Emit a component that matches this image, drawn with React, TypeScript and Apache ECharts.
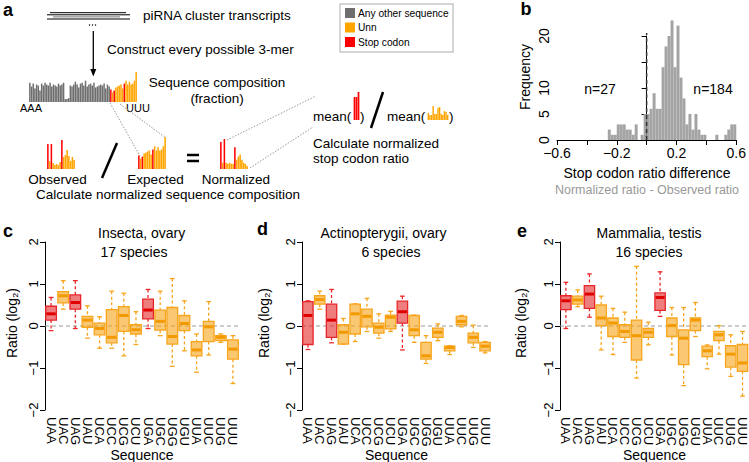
import React, { useEffect, useRef } from "react";
import * as echarts from "echarts";

const FONT = "'Liberation Sans', Arial, Helvetica, sans-serif";
const GRAY = "#6e6e6e";
const ORANGE = "#FFA500";
const RED = "#FF0000";

// ---------- data ----------
const codons = ["UAA","UAC","UAG","UAU","UCA","UCC","UCG","UCU","UGA","UGC","UGG","UGU","UUA","UUC","UUG","UUU"];
const stopCodons = ["UAA","UAG","UGA"];

// panel a schematic (relative heights)
const compOther = [20,16,19,14,18,17,12,19,17,20,18,17,20,16,18,17,16,19,17,18,20,3,3,4,17,16,18,21,18,15,19,20,17,22,16,18,19,17,20,15,16,17,18,17,19,14,18,16];
const expectedU = [13,10,12,15,16,17,18,14,19,22,18,21,18,19,22,31];
const observedU = [25,8,25,6,4,5,4,7,29,12,14,19,13,8,12,9];
const normalizedU = [26,6,29,6,5,6,5,5,21,9,12,14,9,6,5,3];
const meanStop = [23,23,28];
const meanUnn = [7,5,5,14,6,6,12,13,6,5,9,8,5];

// panel b histogram
const histStart = -0.26;
const histBin = 0.02;
const histCounts = [2,1,1,3,3,3,2,2,1,3,0,1,5, 5,6,9,6,6,14,18,20,23,14,22,12,8,3,5,2,5,2,1,1,0,0,0,1,0,0,1,2,3,3];
const histXTicks = ["−0.6","−0.2","0.2","0.6"];

// panels c-e: [lower whisker, Q1, median, Q3, upper whisker]
const insecta = [
  [-0.11,0.14,0.29,0.47,0.68],[0.40,0.55,0.72,0.82,1.08],[-0.06,0.40,0.56,0.74,1.08],[-0.29,-0.03,0.14,0.23,0.48],
  [-0.53,-0.21,-0.06,0.07,0.22],[-0.53,-0.40,-0.27,0.39,0.83],[-0.71,-0.13,0.25,0.46,0.78],[-0.44,-0.19,-0.09,0.03,0.34],
  [-0.06,0.17,0.38,0.64,0.87],[-0.23,-0.10,0.11,0.38,0.83],[-0.96,-0.43,-0.25,0.44,1.13],[-0.59,-0.11,0.06,0.25,0.60],
  [-1.10,-0.71,-0.57,-0.37,-0.19],[-0.69,-0.37,-0.02,0.11,0.58],[-0.39,-0.35,-0.27,-0.23,-0.19],[-1.37,-0.79,-0.55,-0.33,-0.23]
];
const actinopterygii = [
  [-0.56,-0.44,0.25,0.58,0.60],[0.40,0.52,0.63,0.72,0.83],[-0.40,-0.27,0.14,0.52,0.87],[-0.43,-0.43,-0.15,0.03,0.18],
  [-0.37,-0.19,0.29,0.52,0.53],[-0.13,-0.02,0.23,0.40,0.66],[-0.29,-0.17,-0.03,0.07,0.29],[-0.13,-0.07,0.21,0.26,0.35],
  [-0.57,0.07,0.34,0.59,0.71],[-0.39,-0.23,-0.09,0.25,0.26],[-0.89,-0.79,-0.71,-0.39,-0.23],[-0.35,-0.27,-0.15,-0.05,0.05],
  [-0.68,-0.59,-0.51,-0.48,-0.47],[-0.02,0.03,0.11,0.23,0.25],[-0.51,-0.40,-0.27,-0.17,0.02],[-0.64,-0.59,-0.48,-0.39,-0.37]
];
const mammalia = [
  [-0.06,0.39,0.60,0.72,1.04],[0.46,0.52,0.62,0.71,0.86],[0.21,0.42,0.76,0.96,1.24],[-0.57,0.01,0.19,0.50,0.71],
  [-0.68,-0.25,0.07,0.19,0.42],[-0.39,-0.27,-0.13,0.03,0.33],[-1.24,-0.81,-0.23,0.14,1.42],[-0.45,-0.27,-0.15,-0.06,0.09],
  [0.23,0.37,0.68,0.79,1.29],[-0.69,-0.25,0.01,0.19,0.44],[-1.42,-0.92,-0.29,-0.09,0.44],[-0.25,-0.11,0.14,0.19,0.56],
  [-1.02,-0.73,-0.59,-0.48,-0.45],[-0.67,-0.35,-0.21,-0.13,0.01],[-1.20,-0.98,-0.67,-0.47,-0.21],[-1.67,-1.08,-0.88,-0.44,-0.13]
];

// ---------- helpers ----------
const bases = ["A","C","G","U"];
const allTrimers = bases.flatMap(a => bases.flatMap(b => bases.map(c => a + b + c)));
const colorOf = (t: string) => (t[0] !== "U" ? GRAY : stopCodons.includes(t) ? RED : ORANGE);
const unnCodons = codons.filter(c => !stopCodons.includes(c));

const txt = (text: string, x: number, y: number, o: any = {}) => ({
  type: "text", x, y, rotation: o.rot || 0, silent: true,
  style: {
    text, fill: o.color || "#000", fontSize: o.size || 13.5, fontFamily: FONT,
    fontWeight: o.weight || "normal",
    textAlign: o.align || "left", align: o.align || "left",
    textVerticalAlign: "middle", verticalAlign: "middle",
  },
});
const ln = (x1: number, y1: number, x2: number, y2: number, o: any = {}) => ({
  type: "line", silent: true, shape: { x1, y1, x2, y2 },
  style: { stroke: o.color || "#000", lineWidth: o.w || 1, lineDash: o.dash || null },
});

function App() {
  const ref = useRef<HTMLDivElement>(null);
  useEffect(() => {
    document.body.style.margin = "0";
    const chart = echarts.init(ref.current!, null, { renderer: "svg" });

    const miniGrids = [
      { left: 29, top: 72, width: 108, height: 30 },
      { left: 47, top: 140, width: 28, height: 29 },
      { left: 138, top: 137, width: 28, height: 32 },
      { left: 220, top: 139, width: 28, height: 30 },
      { left: 353.5, top: 92, width: 6, height: 28 },
      { left: 427.5, top: 104, width: 21, height: 16 },
    ];
    const miniCats = [allTrimers, codons, codons, codons, stopCodons, unnCodons];
    const miniVals = [[...compOther, ...expectedU], observedU, expectedU, normalizedU, meanStop, meanUnn];
    const miniMax = [31, 29, 31, 29, 28, 16];

    const grids: any[] = [...miniGrids,
      { left: 557, top: 36, width: 181, height: 104 },
      { left: 45, top: 242, width: 194, height: 168 },
      { left: 302, top: 242, width: 189, height: 168 },
      { left: 560, top: 242, width: 189, height: 168 },
    ];

    const xAxes: any[] = miniCats.map((cats, k) => ({ type: "category", gridIndex: k, data: cats, show: false }));
    const yAxes: any[] = miniMax.map((m, k) => ({ type: "value", gridIndex: k, min: 0, max: m, show: false }));

    // histogram axes
    xAxes.push({
      type: "value", gridIndex: 6, min: -0.6, max: 0.6, interval: 0.2,
      axisLine: { show: true, onZero: false, lineStyle: { color: "#000", width: 1 } },
      axisTick: { show: true, length: 5, lineStyle: { color: "#000" } },
      splitLine: { show: false },
      axisLabel: {
        fontSize: 14, color: "#000", fontFamily: FONT, margin: 6,
        formatter: (v: number) => {
          const k = Math.round(v * 10);
          return Math.abs(k) % 4 === 2 ? histXTicks[(k + 6) / 4] : "";
        },
      },
    });
    yAxes.push({
      type: "value", gridIndex: 6, min: 0, max: 20, interval: 5,
      axisLine: { show: true, lineStyle: { color: "#000", width: 1 } },
      axisTick: { show: true, length: 5, lineStyle: { color: "#000" } },
      splitLine: { show: false },
      axisLabel: { rotate: 90, fontSize: 14, color: "#000", fontFamily: FONT, margin: 6,
        formatter: (v: number) => (v === 15 ? "" : String(v)) },
    });
    // box panels axes
    for (let g = 7; g <= 9; g++) {
      xAxes.push({
        type: "category", gridIndex: g, data: codons,
        axisLine: { show: false }, axisTick: { show: false }, splitLine: { show: false },
        axisLabel: { interval: 0, rotate: -90, fontSize: 13, color: "#000", fontFamily: FONT, margin: 7 },
      });
      yAxes.push({
        type: "value", gridIndex: g, min: -2, max: 2, interval: 1,
        axisLine: { show: true, lineStyle: { color: "#000", width: 1 } },
        axisTick: { show: true, length: 5, lineStyle: { color: "#000" } },
        splitLine: { show: false },
        axisLabel: { rotate: 90, fontSize: 13, color: "#000", fontFamily: FONT, margin: 5,
          formatter: (v: number) => String(v).replace("-", "−") },
      });
    }

    const series: any[] = miniCats.map((cats, k) => ({
      type: "bar", xAxisIndex: k, yAxisIndex: k, barCategoryGap: "12%", silent: true,
      data: miniVals[k].map((v, i) => ({ value: v, itemStyle: { color: colorOf(k === 4 || k === 5 ? "U" + cats[i].slice(1) : cats[i]) } })),
    }));
    // fix colours of mean charts explicitly
    series[4].data.forEach((d: any) => (d.itemStyle.color = RED));
    series[5].data.forEach((d: any) => (d.itemStyle.color = ORANGE));

    // histogram
    series.push({
      type: "custom", xAxisIndex: 6, yAxisIndex: 6, clip: false, silent: true,
      data: histCounts.map((c, i) => [histStart + i * histBin, c]),
      renderItem: (p: any, api: any) => {
        const x0 = api.value(0), c = api.value(1);
        if (!c) return null;
        const a = api.coord([x0, 0]);
        const b = api.coord([x0 + histBin, c]);
        return { type: "rect", shape: { x: a[0], y: b[1], width: b[0] - a[0], height: a[1] - b[1] }, style: { fill: "#a4a4a4" } };
      },
    });
    series.push({
      type: "custom", xAxisIndex: 6, yAxisIndex: 6, clip: false, silent: true, data: [[0, 20.6]],
      renderItem: (p: any, api: any) => {
        const a = api.coord([0, 0]);
        const b = api.coord([0, api.value(1)]);
        return { type: "line", shape: { x1: a[0], y1: a[1], x2: b[0], y2: b[1] }, style: { stroke: "#333", lineWidth: 1.5, lineDash: [4, 3] } };
      },
    });

    const boxRender = (p: any, api: any) => {
      const i = api.value(0);
      const lo = api.value(1), q1 = api.value(2), md = api.value(3), q3 = api.value(4), hi = api.value(5);
      const cx = api.coord([i, md])[0];
      const band = api.size([1, 0])[0];
      const bw = band * 0.88, cw = bw * 0.45;
      const y = (v: number) => api.coord([i, v])[1];
      const stop = stopCodons.includes(codons[i]);
      const col = stop ? "#E8262A" : "#F7A51C";
      const fill = stop ? "rgba(226,40,40,0.6)" : "rgba(247,162,20,0.6)";
      const med = stop ? "#E00000" : "#F29A00";
      return {
        type: "group",
        children: [
          { type: "line", shape: { x1: cx, y1: y(hi), x2: cx, y2: y(q3) }, style: { stroke: col, lineWidth: 1.3, lineDash: [3, 2.5] } },
          { type: "line", shape: { x1: cx, y1: y(q1), x2: cx, y2: y(lo) }, style: { stroke: col, lineWidth: 1.3, lineDash: [3, 2.5] } },
          { type: "line", shape: { x1: cx - cw / 2, y1: y(hi), x2: cx + cw / 2, y2: y(hi) }, style: { stroke: col, lineWidth: 1.3 } },
          { type: "line", shape: { x1: cx - cw / 2, y1: y(lo), x2: cx + cw / 2, y2: y(lo) }, style: { stroke: col, lineWidth: 1.3 } },
          { type: "rect", shape: { x: cx - bw / 2, y: y(q3), width: bw, height: y(q1) - y(q3) }, style: { fill, stroke: col, lineWidth: 1.3 } },
          { type: "line", shape: { x1: cx - bw / 2 + 0.7, y1: y(md), x2: cx + bw / 2 - 0.7, y2: y(md) }, style: { stroke: med, lineWidth: 3 } },
        ],
      };
    };
    const zeroRender = (p: any, api: any) => {
      const cs = p.coordSys;
      const yy = api.coord([0, 0])[1];
      return { type: "line", shape: { x1: cs.x, y1: yy, x2: cs.x + cs.width, y2: yy }, style: { stroke: "#9a9a9a", lineWidth: 1.2, lineDash: [4, 3] } };
    };
    [insecta, actinopterygii, mammalia].forEach((boxes, j) => {
      const g = 7 + j;
      series.push({ type: "custom", xAxisIndex: g, yAxisIndex: g, silent: true, data: [[0, 0]], renderItem: zeroRender, encode: { x: 0, y: 1 } });
      series.push({
        type: "custom", xAxisIndex: g, yAxisIndex: g, silent: true,
        data: boxes.map((b, i) => [i, ...b]), encode: { x: 0, y: [1, 2, 3, 4, 5] }, renderItem: boxRender,
      });
    });

    const graphic: any[] = [
      // panel a
      txt("a", 8, 10, { size: 18, weight: "bold", align: "center" }),
      ln(50, 12.7, 126, 12.7), ln(47, 14.8, 130, 14.8), ln(53, 16.9, 120, 16.9, { color: "#777" }), ln(47, 19, 130, 19),
      { type: "circle", silent: true, shape: { cx: 89.5, cy: 25, r: 0.7 }, style: { fill: "#000" } },
      { type: "circle", silent: true, shape: { cx: 92.5, cy: 25, r: 0.7 }, style: { fill: "#000" } },
      { type: "circle", silent: true, shape: { cx: 95.5, cy: 25, r: 0.7 }, style: { fill: "#000" } },
      txt("piRNA cluster transcripts", 143, 15),
      ln(93.3, 31, 93.3, 70, { w: 1.3 }),
      { type: "polygon", silent: true, shape: { points: [[90.3, 69], [96.3, 69], [93.3, 76.5]] }, style: { fill: "#000" } },
      txt("Construct every possible 3-mer", 107, 49),
      txt("Sequence composition", 217, 82, { align: "center" }),
      txt("(fraction)", 217, 98, { align: "center" }),
      txt("AAA", 20, 108, { size: 11 }),
      txt("UUU", 126, 108, { size: 11 }),
      ln(110, 103, 140, 156, { color: "#999", dash: [1.5, 1.5] }),
      ln(120, 104, 166, 138, { color: "#999", dash: [1.5, 1.5] }),
      ln(117, 143, 102, 178, { w: 2.5 }),
      ln(187, 155, 199, 155, { w: 2.5 }), ln(187, 161, 199, 161, { w: 2.5 }),
      txt("Observed", 57.5, 179, { align: "center" }),
      txt("Expected", 155.5, 179, { align: "center" }),
      txt("Normalized", 236, 179, { align: "center" }),
      txt("Calculate normalized sequence composition", 168, 194, { align: "center" }),
      ln(227, 140, 316, 96, { color: "#999", dash: [1.5, 1.5] }),
      ln(250, 168, 313, 127, { color: "#999", dash: [1.5, 1.5] }),
      txt("mean(", 313, 116),
      txt(")", 360, 116),
      ln(383, 92, 371, 128, { w: 2.5 }),
      txt("mean(", 387, 116),
      txt(")", 449, 116),
      txt("Calculate normalized", 313, 143),
      txt("stop codon ratio", 313, 158),
      { type: "rect", silent: true, shape: { x: 340, y: 4, width: 113, height: 48 }, style: { fill: "#fff", stroke: "#c8c8c8", lineWidth: 1.5 } },
      { type: "rect", silent: true, shape: { x: 345, y: 8, width: 10, height: 10 }, style: { fill: GRAY } },
      { type: "rect", silent: true, shape: { x: 345, y: 22.5, width: 10, height: 10 }, style: { fill: ORANGE } },
      { type: "rect", silent: true, shape: { x: 345, y: 37, width: 10, height: 10 }, style: { fill: RED } },
      txt("Any other sequence", 358, 13, { size: 10.2 }),
      txt("Unn", 358, 27.5, { size: 10.2 }),
      txt("Stop codon", 358, 42, { size: 10.2 }),
      // panel b
      txt("b", 526, 9, { size: 18, weight: "bold", align: "center" }),
      txt("Frequency", 525, 77, { size: 14, align: "center", rot: Math.PI / 2 }),
      txt("n=27", 600, 89, { size: 14, align: "center" }),
      txt("n=184", 713, 89, { size: 14, align: "center" }),
      txt("Stop codon ratio difference", 647, 173, { size: 14, align: "center" }),
      txt("Normalized ratio - Observed ratio", 647, 190, { size: 12.5, align: "center", color: "#999" }),
      // panel c
      txt("c", 8, 231, { size: 18, weight: "bold", align: "center" }),
      txt("Insecta, ovary", 141.7, 233, { size: 14, align: "center" }),
      txt("17 species", 134, 252, { size: 14, align: "center" }),
      txt("Ratio (log₂)", 12, 323, { size: 14, align: "center", rot: Math.PI / 2 }),
      txt("Sequence", 142, 455, { size: 14, align: "center" }),
      // panel d
      txt("d", 262.5, 229, { size: 18, weight: "bold", align: "center" }),
      txt("Actinopterygii, ovary", 383.5, 233, { size: 14, align: "center" }),
      txt("6 species", 391, 252, { size: 14, align: "center" }),
      txt("Ratio (log₂)", 264, 323, { size: 14, align: "center", rot: Math.PI / 2 }),
      txt("Sequence", 396.5, 455, { size: 14, align: "center" }),
      // panel e
      txt("e", 522, 231, { size: 18, weight: "bold", align: "center" }),
      txt("Mammalia, testis", 649, 233, { size: 14, align: "center" }),
      txt("16 species", 649, 252, { size: 14, align: "center" }),
      txt("Ratio (log₂)", 521, 323, { size: 14, align: "center", rot: Math.PI / 2 }),
      txt("Sequence", 654.5, 455, { size: 14, align: "center" }),
    ];

    chart.setOption({
      animation: false,
      backgroundColor: "#fff",
      textStyle: { fontFamily: FONT },
      grid: grids,
      xAxis: xAxes,
      yAxis: yAxes,
      series,
      graphic,
    });
    return () => chart.dispose();
  }, []);
  return <div ref={ref} style={{ width: 749, height: 462 }} />;
}

export default App;
